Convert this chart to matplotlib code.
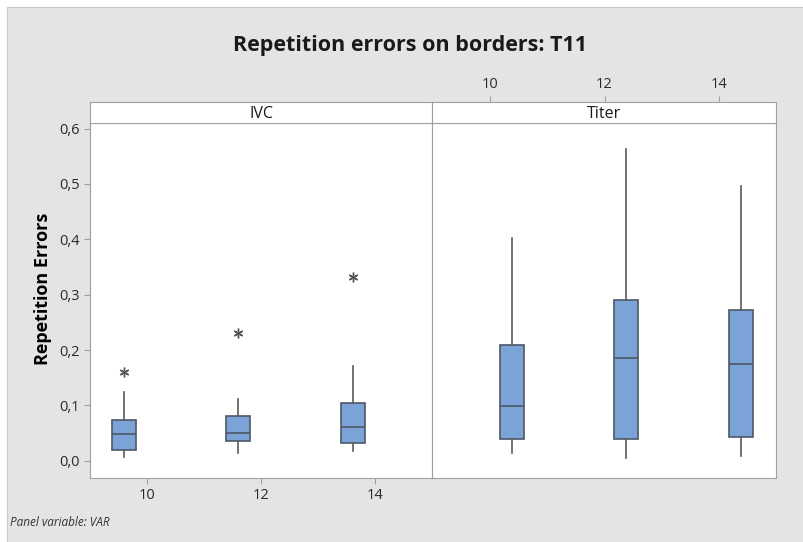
import matplotlib.pyplot as plt
from matplotlib.patches import Rectangle
from matplotlib.ticker import FixedLocator

plt.rcParams['font.family'] = ['Open Sans', 'DejaVu Sans']

panels = ['IVC', 'Titer']
groups = [10, 12, 14]
offsets = [-0.4, 0.38]

whislo = [[0.007, 0.014, 0.017], [0.014, 0.006, 0.009]]
q1 = [[0.020, 0.035, 0.033], [0.040, 0.040, 0.043]]
med = [[0.048, 0.051, 0.061], [0.099, 0.185, 0.175]]
q3 = [[0.074, 0.081, 0.104], [0.210, 0.291, 0.273]]
whishi = [[0.125, 0.111, 0.171], [0.403, 0.563, 0.496]]
outliers = [[[0.161], [0.231], [0.332]], [[], [], []]]

yticks = [0.0, 0.1, 0.2, 0.3, 0.4, 0.5, 0.6]
yticklabels = ['0,0', '0,1', '0,2', '0,3', '0,4', '0,5', '0,6']

W, H = 804, 542
fig = plt.figure(figsize=(W / 100, H / 100), dpi=100)
fig.patch.set_facecolor('white')
bg = Rectangle((7 / W, -0.1), 1.2, 1.1 - 7 / H, transform=fig.transFigure,
               facecolor='#e4e4e4', edgecolor='#c8c8c8', lw=0.8, zorder=-10)
fig.add_artist(bg)

border = '#a0a0a0'
box_face = '#7ba3d8'
box_edge = '#4d5866'

def px(x0, y0, x1, y1):
    return [x0 / W, 1 - y1 / H, (x1 - x0) / W, (y1 - y0) / H]

panel_x = [(90, 432.5), (432.5, 776.5)]
for i, name in enumerate(panels):
    x0, x1 = panel_x[i]
    ax = fig.add_axes(px(x0, 123, x1, 478))
    strip = fig.add_axes(px(x0, 102, x1, 123))
    stats = []
    for j in range(len(groups)):
        stats.append({'whislo': whislo[i][j], 'q1': q1[i][j], 'med': med[i][j],
                      'q3': q3[i][j], 'whishi': whishi[i][j], 'fliers': outliers[i][j]})
    pos = [g + offsets[i] for g in groups]
    ax.bxp(stats, positions=pos, widths=0.42, patch_artist=True, showcaps=False,
           boxprops=dict(facecolor=box_face, edgecolor=box_edge, lw=1.2),
           medianprops=dict(color=box_edge, lw=1.2),
           whiskerprops=dict(color='#5a5a5a', lw=1.2),
           flierprops=dict(marker=(6, 2, 0), markersize=7, markeredgecolor='#555555',
                           markeredgewidth=1.0))
    ax.set_xlim(9, 15)
    ax.set_ylim(-0.031, 0.61)
    for s in ax.spines.values():
        s.set_color(border)
    ax.tick_params(colors=border, labelcolor='#2a2a2a', labelsize=10.5, length=4)
    if i == 0:
        ax.yaxis.set_major_locator(FixedLocator(yticks))
        ax.set_yticklabels(yticklabels)
        ax.xaxis.set_major_locator(FixedLocator(groups))
        ax.set_xticklabels([str(g) for g in groups])
        ax.set_ylabel('Repetition Errors', fontsize=13, fontweight='bold')
        ax.yaxis.set_label_coords(-0.11, 0.532)
    else:
        ax.set_yticks([])
        ax.set_xticks([])

    strip.set_xlim(9, 15)
    strip.set_yticks([])
    for s in strip.spines.values():
        s.set_color(border)
    strip.text(0.5, 0.45, name, transform=strip.transAxes, ha='center', va='center',
               fontsize=11.5, color='#1a1a1a')
    if i == 1:
        strip.xaxis.tick_top()
        strip.xaxis.set_major_locator(FixedLocator(groups))
        strip.set_xticklabels([str(g) for g in groups])
        strip.tick_params(colors=border, labelcolor='#2a2a2a', labelsize=10.5, length=4)
    else:
        strip.set_xticks([])

fig.text(410 / W, 1 - 45 / H, 'Repetition errors on borders: T11', ha='center', va='center',
         fontsize=15.5, fontweight='bold', color='#1a1a1a')
fig.text(10 / W, 1 - 522 / H, 'Panel variable: VAR', ha='left', va='center',
         fontsize=8.5, style='italic', color='#333333')

plt.savefig('out.png', dpi=100, facecolor=fig.get_facecolor())
